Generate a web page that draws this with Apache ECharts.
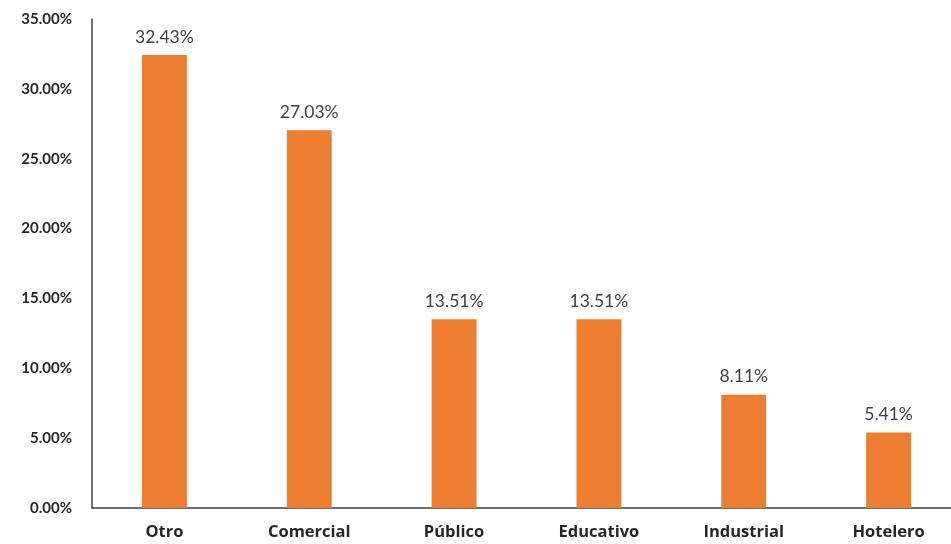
<!DOCTYPE html>
<html>
<head>
<meta charset="utf-8">
<script src="https://cdn.jsdelivr.net/npm/echarts@6/dist/echarts.min.js"></script>
<style>
  html, body { margin: 0; padding: 0; background: #fff; }
  #chart { width: 951px; height: 544px; }
</style>
</head>
<body>
<div id="chart"></div>
<script>
// Share of projects by sector (percent)
const categories = ['Otro', 'Comercial', 'Público', 'Educativo', 'Industrial', 'Hotelero'];
const shares = [32.43, 27.03, 13.51, 13.51, 8.11, 5.41];
const yTicks = { min: 0, max: 35, step: 5 };

const chart = echarts.init(document.getElementById('chart'), null, { renderer: 'canvas' });

chart.setOption({
  animation: false,
  backgroundColor: '#ffffff',
  // plot area runs slightly past the right edge of the canvas
  grid: { left: 92, width: 869, top: 19, bottom: 36, containLabel: false, outerBoundsMode: 'none' },
  xAxis: {
    type: 'category',
    data: categories,
    axisLine: { show: true, lineStyle: { color: '#404040', width: 1.5 } },
    axisTick: { show: false },
    axisLabel: {
      margin: 16,
      color: '#262626',
      fontFamily: 'Open Sans',
      fontWeight: 'bold',
      fontSize: 16.5
    }
  },
  yAxis: {
    type: 'value',
    min: yTicks.min,
    max: yTicks.max,
    interval: yTicks.step,
    axisLine: { show: true, lineStyle: { color: '#404040', width: 1.5 } },
    axisTick: { show: false },
    splitLine: { show: false },
    axisLabel: {
      margin: 20,
      color: '#262626',
      fontFamily: 'Lato',
      fontWeight: 'bold',
      fontSize: 15,
      formatter: v => v.toFixed(2) + '%'
    }
  },
  series: [{
    type: 'bar',
    data: shares,
    barWidth: '31%',
    itemStyle: { color: '#ED7D31' },
    label: {
      show: true,
      position: 'top',
      distance: 9,
      color: '#404040',
      fontFamily: 'Lato',
      fontSize: 17.5,
      formatter: p => p.value.toFixed(2) + '%'
    }
  }]
});
</script>
</body>
</html>
